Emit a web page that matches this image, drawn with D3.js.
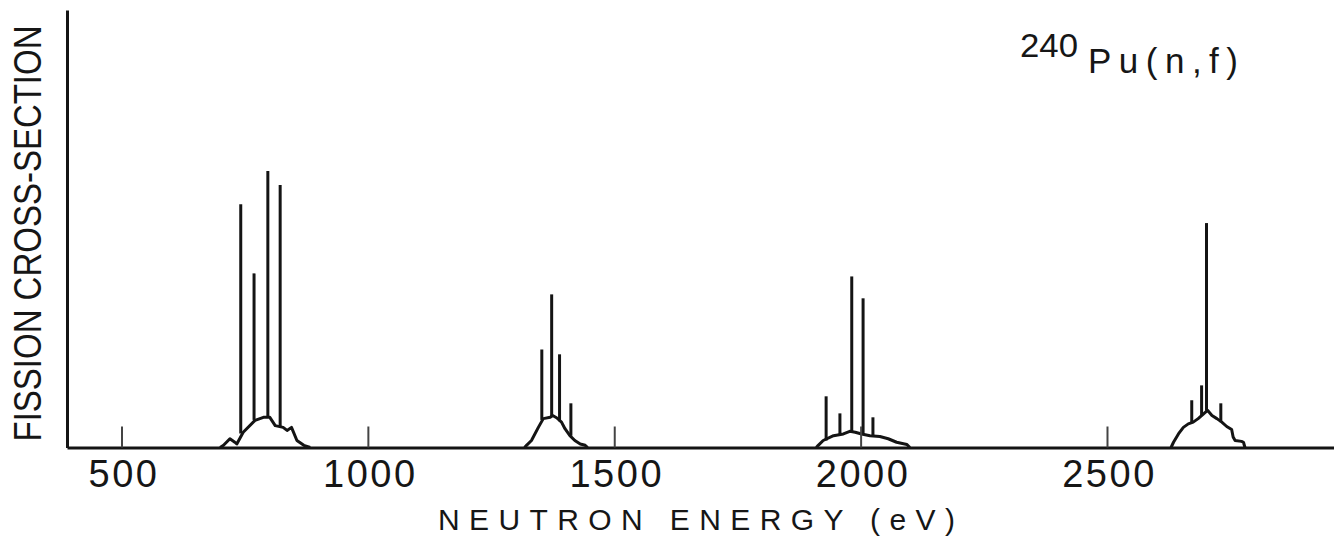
<!DOCTYPE html>
<html>
<head>
<meta charset="utf-8">
<script src="https://cdn.jsdelivr.net/npm/d3@7"></script>
<style>
  html, body { margin: 0; padding: 0; background: #fff; }
  svg { display: block; }
  text { font-family: "Liberation Sans", Arial, sans-serif; fill: #161616; }
</style>
</head>
<body>
<svg id="chart" width="1334" height="539"></svg>
<script>
// Energy axis ticks (eV)
const tickValues = [500, 1000, 1500, 2000, 2500];

// Narrow resonances: energy (eV), peak height and the level they rise from (arbitrary units)
const spikeEnergy = [742, 769, 797, 822, 1353, 1373, 1389, 1412, 1930, 1958, 1982, 2005, 2025, 2672, 2692, 2702, 2731];
const spikePeak   = [55.6, 39.8, 63.2, 60.0, 22.4, 35.0, 21.3, 10.1, 11.7, 7.8, 39.1, 34.1, 6.9, 10.8, 14.2, 51.3, 10.1];
const spikeFloor  = [3.2, 6.3, 6.9, 4.8, 6.3, 7.2, 6.0, 2.7, 1.6, 3.0, 3.7, 3.1, 2.6, 5.6, 7.3, 8.4, 5.8];

// Broad intermediate-structure envelopes under each cluster: [energy, height]
const clusterA = [[700,0],[707,0.5],[720,2.0],[730,1.2],[734,0.8],[747,3.5],[771,6.2],[788,6.9],[801,6.9],[812,5.0],[828,4.6],[836,3.9],[845,4.6],[856,1.6],[870,0.5],[883,0]];
const clusterB = [[1318,0],[1322,0.5],[1332,1.6],[1346,4.6],[1356,6.6],[1370,6.9],[1375,7.3],[1383,6.8],[1393,5.8],[1400,4.3],[1410,2.7],[1420,1.6],[1431,0.8],[1441,0.5],[1446,0]];
const clusterC = [[1910,0],[1914,0.5],[1924,1.6],[1945,2.7],[1965,3.1],[1978,3.7],[1989,3.5],[2002,3.1],[2019,2.7],[2039,2.5],[2056,2.0],[2073,1.2],[2094,0.7],[2100,0]];
const clusterD = [[2630,0],[2635,1.2],[2645,3.1],[2655,4.6],[2665,5.4],[2675,5.8],[2685,6.6],[2696,7.7],[2704,8.5],[2713,7.3],[2723,6.6],[2733,5.8],[2743,4.8],[2753,4.1],[2756,2.4],[2760,1.6],[2773,1.4],[2777,1.2],[2780,0]];

const svg = d3.select("#chart");

const x = d3.scaleLinear().domain([389.4, 2960.7]).range([67, 1334]);
const y = d3.scaleLinear().domain([0, 100]).range([447.5, 10]);

const ink = "#141414";

// Envelopes
const line = d3.line().x(d => x(d[0])).y(d => y(d[1]));
svg.append("g")
  .selectAll("path")
  .data([clusterA, clusterB, clusterC, clusterD])
  .join("path")
  .attr("d", line)
  .attr("fill", "none")
  .attr("stroke", ink)
  .attr("stroke-width", 3)
  .attr("stroke-linejoin", "round");

// Resonance spikes
const spikes = spikeEnergy.map((e, i) => ({ e, top: spikePeak[i], floor: spikeFloor[i] }));
svg.append("g")
  .selectAll("line")
  .data(spikes)
  .join("line")
  .attr("x1", d => x(d.e)).attr("x2", d => x(d.e))
  .attr("y1", d => y(d.floor)).attr("y2", d => y(d.top))
  .attr("stroke", ink)
  .attr("stroke-width", 3);

// X axis with inward ticks
const xAxis = svg.append("g")
  .attr("transform", `translate(0,${y(0)})`)
  .call(d3.axisBottom(x).tickValues(tickValues).tickSizeInner(-21).tickSizeOuter(0).tickFormat(d3.format("d")));
xAxis.select(".domain").attr("stroke", ink).attr("stroke-width", 3);
xAxis.selectAll(".tick line").attr("stroke", "#444").attr("stroke-width", 2);
xAxis.selectAll(".tick text")
  .attr("y", 39.5).attr("dy", null).attr("dx", 2)
  .attr("fill", "#161616")
  .style("font-family", '"Liberation Sans", Arial, sans-serif')
  .style("font-size", "38px")
  .style("letter-spacing", "2.5px");

// Y axis (plain line)
const yAxis = svg.append("g")
  .attr("transform", `translate(${x.range()[0]},0)`)
  .call(d3.axisLeft(y).tickValues([]).tickSizeOuter(0));
yAxis.select(".domain").attr("stroke", ink).attr("stroke-width", 3);

// Axis titles
svg.append("text")
  .attr("x", 438).attr("y", 530)
  .attr("textLength", 517).attr("lengthAdjust", "spacing")
  .style("font-size", "30px")
  .text("NEUTRON ENERGY (eV)");

svg.append("text")
  .attr("transform", "translate(41,233.5) rotate(-90)")
  .attr("text-anchor", "middle")
  .attr("textLength", 416).attr("lengthAdjust", "spacingAndGlyphs")
  .style("font-size", "38px")
  .text("FISSION CROSS-SECTION");

// Reaction label
svg.append("text")
  .attr("x", 1020).attr("y", 57)
  .style("font-size", "33px")
  .attr("textLength", 58).attr("lengthAdjust", "spacingAndGlyphs")
  .text("240");
svg.append("text")
  .attr("x", 1088).attr("y", 73)
  .style("font-size", "35px")
  .attr("textLength", 150).attr("lengthAdjust", "spacing")
  .text("Pu(n,f)");
</script>
</body>
</html>
